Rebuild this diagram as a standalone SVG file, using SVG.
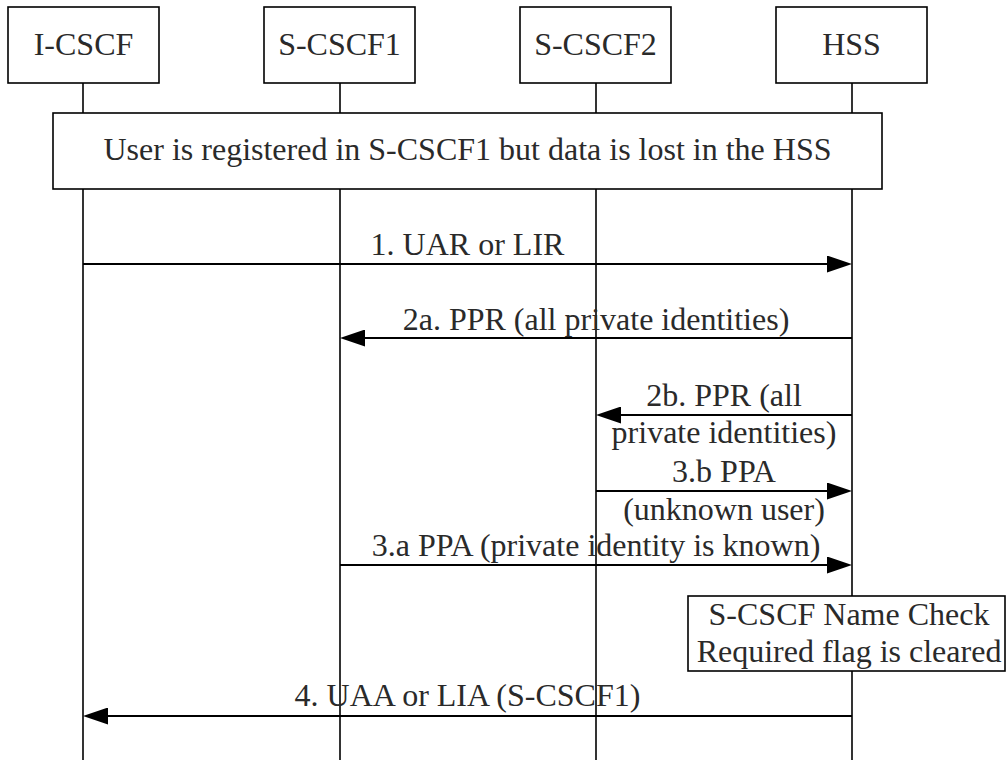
<svg xmlns="http://www.w3.org/2000/svg" width="1007" height="760" viewBox="0 0 1007 760">
  <style>
    .box { fill: #ffffff; stroke: #000000; stroke-width: 1.6; }
    .life { stroke: #000000; stroke-width: 1.6; fill: none; }
    .msg { stroke: #000000; stroke-width: 2; fill: none; marker-end: url(#arrow); }
    text { font-family: "Liberation Serif", "Times New Roman", serif; font-size: 32px; fill: #2a2a2a; text-anchor: middle; }
  </style>
  <defs>
    <marker id="arrow" viewBox="0 0 25 17" refX="20" refY="8.5" markerWidth="25" markerHeight="17" markerUnits="userSpaceOnUse" orient="auto">
      <path d="M0,0 L25,8.5 L0,17 Z" fill="#000000"/>
    </marker>
  </defs>

  <rect width="1007" height="760" fill="#ffffff"/>

  <!-- lifelines -->
  <g id="lifelines">
    <line class="life" x1="83" y1="83" x2="83" y2="760"/>
    <line class="life" x1="340" y1="83" x2="340" y2="760"/>
    <line class="life" x1="596" y1="83" x2="596" y2="760"/>
    <line class="life" x1="852" y1="83" x2="852" y2="760"/>
  </g>

  <!-- participants -->
  <g id="icscf">
    <rect class="box" x="8" y="7" width="151" height="76"/>
    <text x="83.5" y="55">I-CSCF</text>
  </g>
  <g id="scscf1">
    <rect class="box" x="264" y="7" width="151" height="76"/>
    <text x="339.5" y="55">S-CSCF1</text>
  </g>
  <g id="scscf2">
    <rect class="box" x="520" y="7" width="151" height="76"/>
    <text x="595.5" y="55">S-CSCF2</text>
  </g>
  <g id="hss">
    <rect class="box" x="776" y="7" width="151" height="76"/>
    <text x="851.5" y="55">HSS</text>
  </g>

  <!-- shared state note -->
  <g id="note-registered">
    <rect class="box" x="53" y="113" width="829" height="76"/>
    <text x="467.5" y="160">User is registered in S-CSCF1 but data is lost in the HSS</text>
  </g>

  <!-- messages -->
  <g id="connectors">
    <line class="msg" x1="83" y1="264" x2="847" y2="264"/>
    <line class="msg" x1="852" y1="338" x2="345" y2="338"/>
    <line class="msg" x1="852" y1="415" x2="601" y2="415"/>
    <line class="msg" x1="596" y1="491" x2="847" y2="491"/>
    <line class="msg" x1="340" y1="565" x2="847" y2="565"/>
    <line class="msg" x1="852" y1="716" x2="88" y2="716"/>
  </g>

  <g id="labels">
    <text x="467.5" y="255">1. UAR or LIR</text>
    <text x="596" y="330">2a. PPR (all private identities)</text>
    <text x="724" y="406">2b. PPR (all</text>
    <text x="724" y="443">private identities)</text>
    <text x="724" y="482">3.b PPA</text>
    <text x="724" y="520">(unknown user)</text>
    <text x="596" y="556">3.a PPA (private identity is known)</text>
    <text x="467.5" y="706">4. UAA or LIA (S-CSCF1)</text>
  </g>

  <!-- HSS local action -->
  <g id="note-flag">
    <rect class="box" x="688" y="596" width="317" height="75"/>
    <text x="849" y="625">S-CSCF Name Check</text>
    <text x="849" y="662">Required flag is cleared</text>
  </g>
</svg>
